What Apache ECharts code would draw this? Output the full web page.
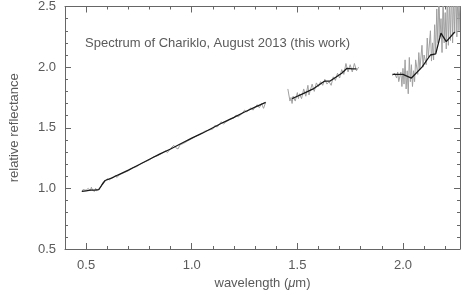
<!DOCTYPE html>
<html>
<head>
<meta charset="utf-8">
<script src="https://cdn.jsdelivr.net/npm/echarts@6/dist/echarts.min.js"></script>
<style>
  html, body { margin: 0; padding: 0; background: #fff; }
  #chart { width: 463px; height: 295px; }
</style>
</head>
<body>
<div id="chart"></div>
<script>
// spectrum, grey = measured, black = smoothed; [wavelength um, reflectance]
var visGrey = [
  [0.48,0.97],[0.485,0.99],[0.49,0.975],[0.50,0.985],[0.505,0.97],[0.51,1.00],[0.52,0.98],
  [0.525,1.01],[0.53,0.985],[0.54,0.975],[0.545,1.00],[0.55,0.98],[0.56,0.995],[0.565,0.98],
  [0.57,1.01],[0.58,1.05],[0.59,1.06],[0.60,1.08],[0.61,1.07],[0.62,1.085],[0.63,1.09],
  [0.64,1.11],[0.645,1.09],[0.66,1.115],[0.68,1.13],[0.70,1.145],[0.72,1.17],[0.74,1.18],
  [0.76,1.205],[0.78,1.22],[0.80,1.235],[0.82,1.26],[0.84,1.27],[0.86,1.29],[0.875,1.31],
  [0.885,1.295],[0.90,1.33],[0.915,1.355],[0.925,1.335],[0.935,1.325],[0.945,1.36],[0.96,1.37],
  [0.98,1.39],[1.00,1.41],[1.02,1.43],[1.04,1.445],[1.06,1.47],[1.08,1.48],[1.10,1.49],
  [1.11,1.52],[1.12,1.505],[1.13,1.525],[1.14,1.55],[1.15,1.53],[1.16,1.545],[1.18,1.57],
  [1.20,1.58],[1.21,1.605],[1.22,1.59],[1.24,1.62],[1.25,1.645],[1.26,1.63],[1.28,1.665],
  [1.29,1.645],[1.30,1.67],[1.31,1.69],[1.32,1.665],[1.33,1.70],[1.34,1.66],[1.35,1.71]
];
var visBlack = [
  [0.48,0.975],[0.50,0.98],[0.52,0.985],[0.54,0.985],[0.56,0.99],[0.575,1.03],[0.59,1.065],
  [0.62,1.085],[0.65,1.11],[0.70,1.15],[0.75,1.195],[0.80,1.24],[0.85,1.285],[0.90,1.325],
  [0.95,1.37],[1.00,1.415],[1.05,1.455],[1.10,1.50],[1.15,1.545],[1.20,1.585],[1.25,1.63],
  [1.30,1.67],[1.35,1.71]
];
var hGrey = [
  [1.455,1.82],[1.46,1.77],[1.465,1.72],[1.47,1.75],[1.475,1.70],[1.48,1.76],[1.49,1.72],
  [1.50,1.79],[1.505,1.74],[1.51,1.78],[1.52,1.74],[1.53,1.82],[1.54,1.76],[1.55,1.85],
  [1.555,1.77],[1.56,1.80],[1.57,1.86],[1.58,1.80],[1.59,1.87],[1.60,1.84],[1.61,1.88],
  [1.62,1.85],[1.63,1.90],[1.64,1.86],[1.65,1.88],[1.66,1.85],[1.67,1.92],[1.68,1.89],
  [1.69,1.95],[1.70,1.91],[1.71,1.98],[1.72,1.94],[1.73,2.03],[1.74,1.96],[1.75,2.02],
  [1.76,1.96],[1.77,2.03],[1.78,1.97],[1.79,2.00]
];
var hBlack = [
  [1.475,1.74],[1.50,1.76],[1.525,1.78],[1.55,1.80],[1.575,1.82],[1.60,1.85],[1.63,1.885],
  [1.655,1.885],[1.68,1.915],[1.71,1.95],[1.735,1.99],[1.76,1.985],[1.78,1.985]
];
var kGrey = [
  [1.95,1.93],[1.96,1.95],[1.97,1.91],[1.975,1.96],[1.98,1.88],[1.99,1.96],[1.995,1.84],
  [2.00,1.99],[2.005,1.86],[2.01,2.06],[2.015,1.82],[2.02,1.97],[2.025,1.78],[2.03,2.08],
  [2.035,1.88],[2.04,2.02],[2.045,1.84],[2.05,1.97],[2.055,1.88],[2.06,2.06],[2.07,1.94],
  [2.075,2.12],[2.08,1.98],[2.09,2.18],[2.095,2.00],[2.10,2.10],[2.11,2.02],[2.115,2.24],
  [2.12,2.08],[2.13,2.30],[2.135,2.05],[2.14,2.20],[2.145,2.06],[2.15,2.35],[2.155,2.12],
  [2.16,2.48],[2.165,2.20],[2.17,2.62],[2.175,2.25],[2.18,2.40],[2.185,2.12],[2.19,2.58],
  [2.195,2.20],[2.20,2.45],[2.205,2.15],[2.21,2.62],[2.215,2.18],[2.22,2.55],[2.225,2.22],
  [2.23,2.70],[2.235,2.20],[2.24,2.60],[2.245,2.28],[2.25,2.75],[2.255,2.25],[2.26,2.62],
  [2.265,2.30],[2.27,2.55]
];
var kBlack = [
  [1.95,1.94],[2.00,1.94],[2.04,1.91],[2.09,2.00],[2.13,2.10],[2.155,2.11],[2.18,2.28],
  [2.205,2.21],[2.245,2.29]
];
var xMajor = [0.5, 1.0, 1.5, 2.0];
var titleText = 'Spectrum of Chariklo, August 2013 (this work)';

var axisColor = '#666';
var textColor = '#5a5a5a';
var font = 'Liberation Sans';

var chart = echarts.init(document.getElementById('chart'));

function xAx(pos, major) {
  return {
    type: 'value', position: pos, min: 0.4, max: 2.27, interval: 0.1,
    axisLine: { show: !major, onZero: false, lineStyle: { color: axisColor, width: 1 } },
    axisTick: major
      ? { show: true, inside: true, length: 6, customValues: xMajor, lineStyle: { color: axisColor } }
      : { show: true, inside: true, length: 3, lineStyle: { color: axisColor } },
    axisLabel: {
      show: pos === 'bottom' && !major,
      color: textColor, fontFamily: font, fontSize: 13, margin: 10,
      formatter: function (v) {
        var r = Math.round(v * 10);
        return (r % 5 === 0 && r > 4) ? (r / 10).toFixed(1) : '';
      }
    },
    splitLine: { show: false }
  };
}

function yAx(pos) {
  return {
    type: 'value', position: pos, min: 0.5, max: 2.5, interval: 0.5,
    axisLine: { show: true, onZero: false, lineStyle: { color: axisColor, width: 1 } },
    axisTick: { show: true, inside: true, length: 6, lineStyle: { color: axisColor } },
    minorTick: { show: true, splitNumber: 5, length: 3, lineStyle: { color: axisColor } },
    axisLabel: {
      show: pos === 'left', color: textColor, fontFamily: font, fontSize: 13, margin: 9,
      formatter: function (v) { return v.toFixed(1); }
    },
    splitLine: { show: false },
    minorSplitLine: { show: false }
  };
}

var xAxes = [xAx('bottom', false), xAx('bottom', true), xAx('top', false), xAx('top', true)];
xAxes[0].name = 'wavelength ({i|μ}m)';
xAxes[0].nameLocation = 'middle';
xAxes[0].nameGap = 27;
xAxes[0].nameTextStyle = {
  color: textColor, fontFamily: font, fontSize: 13,
  rich: { i: { fontStyle: 'italic', color: textColor, fontFamily: font, fontSize: 13 } }
};
var yAxes = [yAx('left'), yAx('right')];
yAxes[0].name = 'relative reflectance';
yAxes[0].nameLocation = 'middle';
yAxes[0].nameGap = 44;
yAxes[0].nameTextStyle = { color: textColor, fontFamily: font, fontSize: 13 };

function line(data, color, w) {
  return {
    type: 'line', data: data, xAxisIndex: 0, yAxisIndex: 0,
    showSymbol: false, clip: true, animation: false,
    lineStyle: { color: color, width: w }
  };
}

var option = {
  animation: false,
  grid: { left: 62, right: 1, top: 5, bottom: 46 },
  title: {
    text: titleText, left: 80, top: 32,
    textStyle: { color: textColor, fontFamily: font, fontSize: 13, fontWeight: 'normal' }
  },
  xAxis: xAxes,
  yAxis: yAxes,
  series: [
    line(visGrey, '#a0a0a0', 1),
    line(hGrey, '#a0a0a0', 1),
    line(kGrey, '#a0a0a0', 1),
    line(visBlack, '#1a1a1a', 1.3),
    line(hBlack, '#1a1a1a', 1.3),
    line(kBlack, '#1a1a1a', 1.3)
  ]
};

chart.setOption(option);
window.addEventListener('resize', function () { chart.resize(); });
</script>
</body>
</html>
